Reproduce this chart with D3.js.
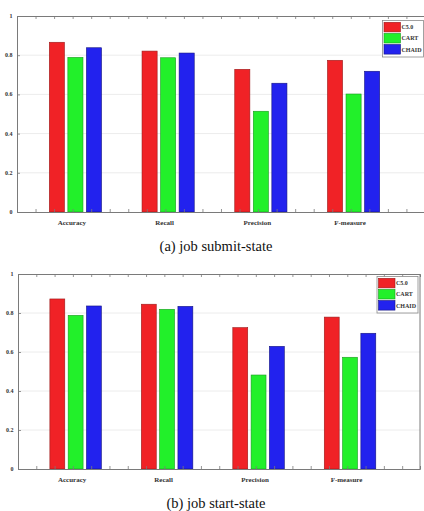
<!DOCTYPE html>
<html>
<head>
<meta charset="utf-8">
<script src="https://cdn.jsdelivr.net/npm/d3@7"></script>
<style>
  html, body { margin: 0; padding: 0; background: #fff; }
  svg { display: block; }
  text { font-family: "Liberation Serif", "Times New Roman", Times, serif; }
</style>
</head>
<body>
<svg id="fig" width="424" height="511"></svg>
<script>
// Metrics compared for each classifier
const categories = ["Accuracy", "Recall", "Precision", "F-measure"];
const seriesNames = ["C5.0", "CART", "CHAID"];
const seriesColors = ["#f02226", "#22f02a", "#2222ee"];
const seriesStroke = ["#9a1a1a", "#1a9a20", "#141480"];

// (a) job submit-state
const submitC50 = [0.866, 0.821, 0.728, 0.774];
const submitCART = [0.789, 0.787, 0.514, 0.602];
const submitCHAID = [0.838, 0.811, 0.657, 0.718];

// (b) job start-state
const startC50 = [0.872, 0.845, 0.725, 0.779];
const startCART = [0.788, 0.819, 0.482, 0.573];
const startCHAID = [0.836, 0.834, 0.629, 0.696];

const yTicks = [0, 0.2, 0.4, 0.6, 0.8, 1];
const yTickLabels = ["0", "0.2", "0.4", "0.6", "0.8", "1"];
const captions = ["(a) job submit-state", "(b) job start-state"];

const svg = d3.select("#fig");

function drawPanel(cfg) {
  const series = cfg.values;
  const g = svg.append("g");
  const x = d3.scaleLinear().domain([0.37, 4.765]).range([cfg.left, cfg.right]);
  const y = d3.scaleLinear().domain([0, 1]).range([cfg.bottom, cfg.top]);
  const unit = x(1) - x(0);

  // horizontal grid
  g.append("g").selectAll("line").data(yTicks.slice(1, -1)).join("line")
    .attr("x1", cfg.left).attr("x2", cfg.right)
    .attr("y1", d => y(d)).attr("y2", d => y(d))
    .attr("stroke", "#ececec").attr("stroke-width", 1);

  // bars
  const offsets = [-0.2, 0, 0.2];
  const bw = 0.163 * unit;
  series.forEach((vals, si) => {
    g.append("g").selectAll("rect").data(vals).join("rect")
      .attr("x", (d, i) => x(i + 1 + offsets[si]) - bw / 2)
      .attr("y", d => y(d))
      .attr("width", bw)
      .attr("height", d => y(0) - y(d))
      .attr("fill", seriesColors[si])
      .attr("stroke", seriesStroke[si])
      .attr("stroke-width", 0.6);
  });

  // x axis ticks (top and bottom, pointing inward)
  const xt = d3.range(0.57, 4.76, 0.2);
  const bottomAxis = d3.axisBottom(x).tickValues(xt).tickSize(-3).tickFormat("");
  const topAxis = d3.axisTop(x).tickValues(xt).tickSize(-3).tickFormat("");
  const leftAxis = d3.axisLeft(y).tickValues(yTicks).tickSize(-3).tickFormat("");
  [
    g.append("g").attr("transform", `translate(0,${cfg.bottom})`).call(bottomAxis),
    g.append("g").attr("transform", `translate(0,${cfg.top})`).call(topAxis),
    g.append("g").attr("transform", `translate(${cfg.left},0)`).call(leftAxis)
  ].forEach(a => {
    a.select(".domain").attr("stroke", "#7a7a7a").attr("stroke-width", 1);
    a.selectAll(".tick line").attr("stroke", "#7a7a7a").attr("stroke-width", 0.8);
  });
  if (cfg.rightEdge) {
    g.append("line").attr("x1", cfg.right).attr("x2", cfg.right)
      .attr("y1", cfg.top).attr("y2", cfg.bottom)
      .attr("stroke", "#7a7a7a").attr("stroke-width", 1);
  }

  // y tick labels
  g.append("g").selectAll("text").data(yTicks).join("text")
    .attr("x", cfg.left - 4.5).attr("y", d => y(d) + 2)
    .attr("text-anchor", "end")
    .attr("font-weight", "bold").attr("font-size", 6)
    .attr("fill", "#333")
    .text((d, i) => yTickLabels[i]);

  // category labels
  g.append("g").selectAll("text").data(categories).join("text")
    .attr("x", (d, i) => x(i + 1) - 3.5).attr("y", cfg.bottom + 13)
    .attr("text-anchor", "middle")
    .attr("font-weight", "bold").attr("font-size", 7)
    .attr("fill", "#333")
    .text(d => d);

  // legend
  const lg = g.append("g").attr("transform", `translate(${cfg.legX},${cfg.legY})`);
  lg.append("rect").attr("width", 41).attr("height", 36.5)
    .attr("fill", "#fff").attr("stroke", "#8a8a8a").attr("stroke-width", 0.8);
  seriesNames.forEach((name, si) => {
    lg.append("rect").attr("x", 1.5).attr("y", 1.8 + si * 11.1)
      .attr("width", 16.5).attr("height", 9.6)
      .attr("fill", seriesColors[si]).attr("stroke", seriesStroke[si]).attr("stroke-width", 0.6);
    lg.append("text").attr("x", 19).attr("y", 8.8 + si * 11.1)
      .attr("font-weight", "bold").attr("font-size", 6)
      .attr("fill", "#333")
      .text(name);
  });

  // caption
  svg.append("text").attr("x", 216).attr("y", cfg.captionY)
    .attr("text-anchor", "middle")
    .attr("font-size", 14.5).attr("fill", "#111")
    .text(cfg.caption);
}

drawPanel({
  values: [submitC50, submitCART, submitCHAID],
  left: 17, right: 424.5, top: 16, bottom: 212,
  legX: 382.5, legY: 20.5, captionY: 251, caption: captions[0], rightEdge: false
});
drawPanel({
  values: [startC50, startCART, startCHAID],
  left: 18, right: 420, top: 274, bottom: 469,
  legX: 377, legY: 276.5, captionY: 507.5, caption: captions[1], rightEdge: true
});
</script>
</body>
</html>
